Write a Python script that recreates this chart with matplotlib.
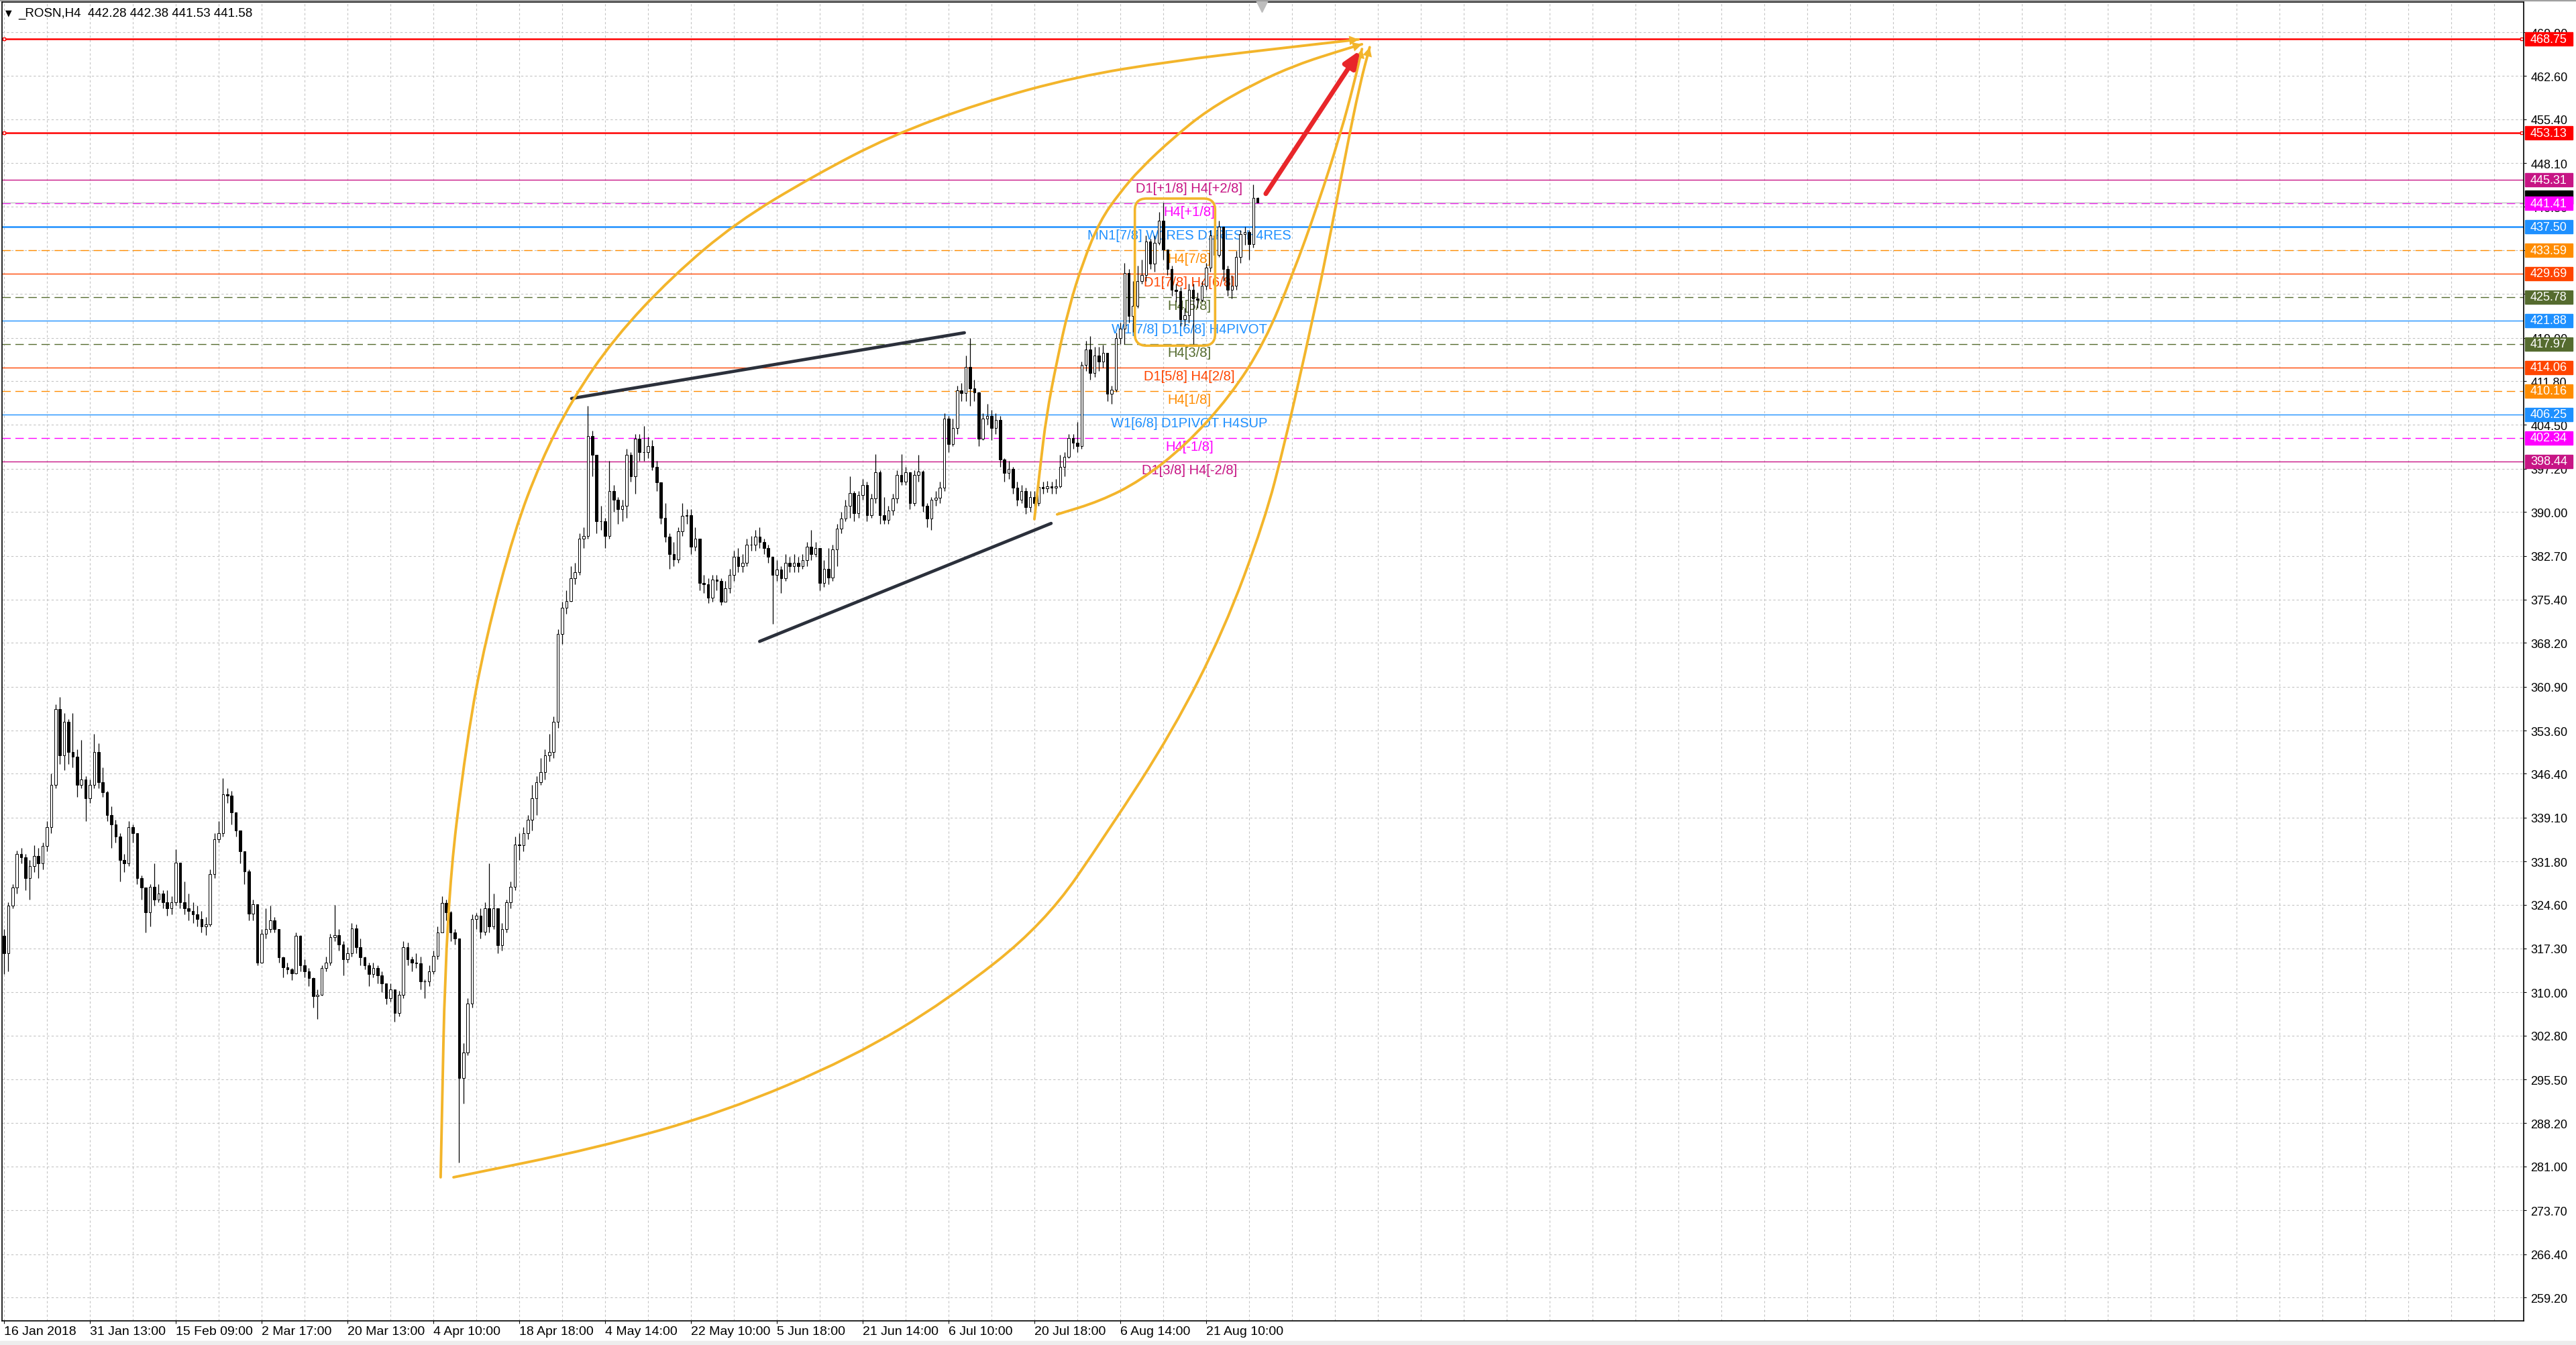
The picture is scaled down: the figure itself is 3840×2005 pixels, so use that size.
import numpy as np
import matplotlib
matplotlib.use("Agg")
import matplotlib.pyplot as plt
import matplotlib.transforms as mtransforms
from matplotlib.path import Path
from matplotlib.patches import PathPatch, FancyBboxPatch, Rectangle

plt.rcParams['font.family'] = ['Liberation Sans', 'DejaVu Sans']
NARROW = ['Liberation Sans Narrow', 'Liberation Sans', 'DejaVu Sans']

# ---- H4 candles of _ROSN (open of a bar = close of the bar before) ----
first_open = 319.4
closes = [316.5, 324.4, 327.5, 333.0, 332.5, 329.0, 331.0, 332.7, 331.5, 334.4,
          337.5, 344.5, 357.2, 349.5, 355.0, 350.0, 349.3, 344.5, 345.5, 342.3,
          344.5, 350.0, 345.0, 343.3, 339.5, 338.0, 336.0, 332.0, 331.5, 337.5,
          336.5, 329.0, 327.5, 323.3, 327.6, 325.5, 326.5, 325.0, 324.0, 325.0,
          331.6, 325.0, 324.0, 323.5, 323.0, 322.2, 321.0, 321.3, 329.7, 335.5,
          336.5, 343.0, 342.8, 340.0, 337.0, 333.5, 330.1, 323.1, 324.7, 315.0,
          319.7, 320.5, 322.0, 320.5, 315.8, 314.2, 313.8, 313.2, 319.4, 314.5,
          313.5, 312.4, 309.4, 309.6, 314.1, 314.9, 319.2, 319.5, 318.0, 315.5,
          316.5, 320.7, 317.5, 315.8, 314.5, 313.0, 314.0, 312.8, 311.5, 309.0,
          310.5, 306.6, 309.6, 317.5, 315.5, 315.0, 314.8, 311.8, 311.8, 313.5,
          316.1, 320.0, 324.9, 323.3, 320.0, 319.0, 295.7, 300.0, 308.1, 322.2,
          322.8, 320.1, 324.0, 321.0, 324.0, 317.8, 320.5, 325.0, 327.6, 334.6,
          334.5, 336.5, 338.8, 342.3, 345.0, 346.7, 349.5, 350.0, 355.1, 369.7,
          374.0, 375.2, 379.0, 380.0, 385.5, 386.0, 402.6, 399.5, 388.5, 388.5,
          386.0, 393.5, 392.0, 390.5, 391.0, 399.5, 396.0, 402.2, 400.0, 400.0,
          401.0, 397.5, 394.9, 389.0, 385.9, 383.0, 382.1, 386.8, 389.3, 389.5,
          384.2, 385.5, 378.2, 378.0, 375.7, 378.7, 378.5, 375.0, 377.3, 379.5,
          382.5, 381.0, 381.5, 384.6, 384.5, 385.9, 385.0, 384.0, 382.5, 379.5,
          380.4, 379.0, 381.5, 381.0, 381.5, 381.0, 382.0, 384.2, 383.0, 384.0,
          378.2, 380.5, 379.1, 383.8, 387.2, 388.9, 391.0, 393.2, 389.8, 392.8,
          394.5, 389.5, 392.3, 396.6, 389.5, 388.7, 390.2, 392.3, 396.2, 395.0,
          396.6, 391.5, 396.2, 396.7, 391.0, 388.9, 392.0, 392.4, 394.0, 405.6,
          401.3, 404.0, 410.3, 409.8, 414.1, 410.6, 409.9, 402.2, 405.5, 406.0,
          404.0, 405.3, 398.7, 396.5, 397.2, 394.0, 392.0, 393.5, 390.8, 392.5,
          391.5, 394.2, 393.9, 394.3, 394.0, 394.3, 397.5, 399.2, 402.3, 401.5,
          401.0, 414.5, 417.1, 413.2, 416.0, 415.0, 416.5, 409.7, 410.4, 419.0,
          420.5, 429.8, 422.7, 424.3, 428.4, 429.5, 435.1, 431.4, 434.8, 438.5,
          433.7, 430.5, 427.0, 426.8, 422.1, 422.8, 427.0, 425.5, 425.3, 427.7,
          430.7, 436.1, 432.8, 437.5, 430.5, 427.0, 427.7, 432.5, 436.3, 436.6,
          434.6, 442.28, 441.58]
highs = [320.5, 325.0, 328.0, 333.6, 334.0, 333.0, 332.0, 334.5, 334.0, 335.0,
         338.5, 346.5, 358.0, 359.2, 356.5, 355.5, 356.5, 350.5, 352.0, 346.0,
         345.5, 353.0, 351.5, 347.5, 343.5, 341.0, 338.8, 336.5, 333.0, 338.5,
         338.0, 336.5, 329.5, 327.5, 328.0, 331.5, 328.0, 327.0, 327.0, 326.0,
         333.8, 331.6, 328.5, 326.5, 325.0, 324.5, 323.5, 322.5, 330.5, 336.5,
         338.5, 345.7, 344.0, 343.5, 340.0, 337.0, 333.5, 330.5, 325.5, 324.5,
         320.5, 324.0, 324.5, 322.5, 320.5, 316.0, 315.0, 314.0, 320.0, 319.5,
         315.5, 314.0, 312.5, 310.5, 314.5, 316.0, 319.8, 324.6, 320.5, 318.5,
         317.5, 321.5, 321.3, 319.0, 316.0, 315.0, 315.0, 314.5, 313.5, 311.5,
         311.5, 310.5, 310.3, 318.5, 318.3, 316.0, 316.5, 316.0, 312.2, 314.5,
         317.0, 321.0, 326.0, 325.5, 323.5, 320.5, 319.0, 301.5, 309.0, 323.0,
         323.2, 324.0, 325.0, 331.5, 326.5, 324.0, 321.5, 325.5, 328.5, 336.0,
         336.5, 337.5, 339.5, 344.5, 346.0, 349.0, 350.5, 353.0, 356.0, 370.5,
         375.0, 377.0, 381.0, 381.5, 386.5, 387.5, 407.7, 403.5, 398.0, 391.0,
         389.0, 398.5, 394.5, 392.5, 392.0, 400.5, 400.0, 403.0, 403.0, 404.3,
         402.5, 402.0, 398.5, 394.0, 391.5, 386.5, 385.0, 387.5, 391.5, 390.5,
         390.5, 387.5, 385.0, 379.5, 379.0, 379.5, 379.5, 379.0, 378.5, 380.5,
         383.5, 384.0, 383.0, 385.5, 386.0, 387.0, 387.5, 385.5, 384.5, 382.5,
         382.0, 381.0, 383.0, 382.5, 383.0, 382.5, 383.0, 385.0, 387.0, 385.0,
         384.0, 382.0, 384.0, 384.5, 388.0, 390.0, 392.0, 396.0, 393.5, 393.5,
         395.5, 395.0, 393.0, 399.6, 397.0, 392.5, 391.0, 393.0, 397.0, 399.6,
         397.5, 396.5, 397.0, 399.5, 397.0, 391.5, 392.5, 393.5, 395.0, 406.5,
         406.0, 405.5, 411.0, 411.5, 416.0, 419.0, 412.0, 410.0, 406.5, 408.0,
         407.0, 406.5, 406.0, 399.0, 398.5, 397.5, 395.0, 394.5, 394.0, 393.5,
         393.5, 395.5, 395.0, 395.2, 395.0, 395.5, 399.5, 400.0, 403.0, 403.0,
         405.0, 415.0, 418.5, 419.3, 417.5, 417.5, 417.8, 416.5, 411.0, 419.8,
         421.5, 431.5, 430.5, 428.5, 431.0, 432.0, 436.0, 435.5, 436.0, 440.0,
         441.5, 433.5, 431.0, 428.0, 427.5, 424.0, 428.0, 428.0, 426.5, 428.5,
         431.5, 437.0, 439.0, 438.5, 437.5, 431.0, 429.5, 433.5, 437.0, 437.5,
         437.0, 444.5, 442.38]
lows = [313.0, 313.5, 324.0, 326.5, 331.5, 327.0, 325.5, 330.0, 329.0, 330.5,
        333.5, 336.5, 344.0, 348.0, 347.0, 348.0, 347.5, 342.5, 344.0, 338.5,
        341.5, 344.0, 344.0, 342.5, 338.5, 334.0, 335.0, 328.5, 330.0, 331.0,
        335.0, 328.0, 325.5, 320.0, 321.0, 324.5, 325.0, 324.0, 322.8, 323.0,
        324.5, 324.0, 323.0, 322.0, 321.5, 321.0, 320.0, 319.5, 321.0, 329.0,
        335.0, 336.0, 341.5, 338.0, 336.0, 331.5, 328.0, 322.0, 322.0, 314.5,
        314.8, 319.0, 320.0, 320.0, 315.0, 312.5, 313.0, 312.0, 313.0, 313.5,
        312.5, 311.0, 307.5, 305.6, 309.5, 313.5, 314.5, 318.5, 317.0, 312.8,
        315.0, 316.0, 316.5, 314.5, 313.8, 311.0, 312.5, 311.5, 310.0, 308.0,
        308.5, 305.1, 306.0, 309.0, 314.5, 313.5, 314.0, 310.5, 309.0, 311.0,
        313.0, 315.5, 320.0, 322.0, 318.5, 318.0, 281.6, 291.5, 299.5, 307.5,
        320.5, 319.0, 319.5, 320.0, 320.5, 316.5, 317.0, 320.0, 324.0, 327.0,
        332.0, 333.5, 335.5, 337.0, 339.5, 344.5, 345.5, 348.5, 349.0, 354.0,
        368.0, 373.0, 375.0, 378.0, 379.5, 384.0, 385.5, 396.0, 386.5, 387.0,
        384.0, 385.5, 390.0, 388.0, 388.5, 389.0, 395.0, 393.0, 398.5, 398.5,
        399.0, 397.0, 393.5, 388.0, 385.0, 380.5, 381.0, 381.5, 386.0, 388.0,
        383.0, 383.5, 377.0, 376.5, 374.8, 375.0, 377.0, 374.5, 375.0, 376.5,
        378.5, 380.0, 380.0, 381.0, 383.5, 383.5, 384.0, 383.0, 381.5, 371.4,
        378.5, 376.5, 378.5, 380.0, 380.0, 380.0, 380.5, 381.0, 382.0, 382.5,
        377.0, 377.5, 378.0, 378.5, 381.0, 386.5, 388.5, 389.0, 388.5, 389.0,
        392.0, 388.5, 389.0, 391.5, 388.0, 388.0, 388.0, 389.5, 391.5, 394.5,
        394.5, 390.5, 391.0, 395.0, 390.0, 387.5, 387.0, 391.0, 391.5, 393.5,
        400.0, 401.0, 403.0, 408.5, 408.5, 407.7, 408.5, 401.0, 402.0, 404.5,
        402.0, 403.0, 397.5, 395.0, 395.5, 393.0, 391.0, 391.5, 389.7, 390.0,
        390.5, 391.0, 393.0, 393.3, 393.0, 393.0, 394.0, 396.0, 399.0, 400.5,
        400.0, 400.5, 413.5, 412.0, 412.5, 413.5, 414.0, 408.5, 408.0, 410.0,
        418.0, 418.0, 421.5, 420.0, 424.0, 428.0, 428.5, 430.5, 430.0, 434.5,
        432.0, 429.5, 426.0, 425.0, 421.0, 421.0, 421.5, 417.8, 424.0, 425.0,
        427.0, 430.0, 432.0, 432.5, 428.5, 426.0, 425.5, 427.0, 431.5, 434.5,
        432.0, 434.0, 441.53]

# time axis: one label every 20 bars
time_labels = ["16 Jan 2018", "31 Jan 13:00", "15 Feb 09:00", "2 Mar 17:00", "20 Mar 13:00",
               "4 Apr 10:00", "18 Apr 18:00", "4 May 14:00", "22 May 10:00", "5 Jun 18:00",
               "21 Jun 14:00", "6 Jul 10:00", "20 Jul 18:00", "6 Aug 14:00", "21 Aug 10:00"]
label_step = 20

price_ticks = [469.90, 462.60, 455.40, 448.10, 440.80, 433.60, 426.30, 419.00, 411.80, 404.50,
               397.20, 390.00, 382.70, 375.40, 368.20, 360.90, 353.60, 346.40, 339.10, 331.80,
               324.60, 317.30, 310.00, 302.80, 295.50, 288.20, 281.00, 273.70, 266.40, 259.20]

# horizontal levels (price, colour, dashed?, caption)
levels = [468.75, 453.13, 445.31, 441.41, 437.50, 433.59, 429.69, 425.78, 421.88, 417.97,
          414.06, 410.16, 406.25, 402.34, 398.44]
level_colors = ['#FF0000', '#FF0000', '#C71585', '#FF00FF', '#1E90FF', '#FF8C00', '#FF4500',
                '#556B2F', '#1E90FF', '#556B2F', '#FF4500', '#FF8C00', '#1E90FF', '#FF00FF', '#C71585']
level_dashed = [False, False, False, True, False, True, False, True, False, True,
                False, True, False, True, False]
level_widths = [1.8, 1.8, 1.0, 1.0, 1.8, 1.0, 1.0, 1.0, 1.0, 1.0, 1.0, 1.0, 1.0, 1.0, 1.0]
level_texts = ['', '', 'D1[+1/8] H4[+2/8]', 'H4[+1/8]', 'MN1[7/8] W1RES D1RES H4RES', 'H4[7/8]',
               'D1[7/8] H4[6/8]', 'H4[5/8]', 'W1[7/8] D1[6/8] H4PIVOT', 'H4[3/8]',
               'D1[5/8] H4[2/8]', 'H4[1/8]', 'W1[6/8] D1PIVOT H4SUP', 'H4[-1/8]', 'D1[3/8] H4[-2/8]']
caption_bar = 276.1

bid = 441.58
title = "_ROSN,H4  442.28 442.38 441.53 441.58"

# hand drawn objects, in (bar, price)
trend_up_x, trend_up_y = [132.2, 223.7], [408.9, 419.85]
trend_lo_x, trend_lo_y = [176.0, 243.9], [368.45, 388.1]
arc1_x = [101.7, 103.0, 107.8, 112.2, 118.9, 125.0, 132.3, 142.2, 155.6, 170.5, 188.4, 206.4,
          227.3, 249.7, 272.2, 294.5, 315.5]
arc1_y = [279.2, 324.0, 352.3, 368.9, 386.9, 398.4, 408.7, 419.0, 429.2, 438.2, 445.9, 452.6,
          458.1, 462.5, 465.1, 467.0, 468.7]
arc2_x = [104.7, 137.7, 167.5, 197.5, 219.8, 242.3, 257.2, 272.2, 284.1, 293.6, 298.3, 303.0,
          308.1, 312.5, 315.8, 318.1]
arc2_y = [279.2, 284.0, 290.0, 299.1, 308.7, 321.4, 336.8, 353.5, 370.2, 388.5, 401.4, 416.2,
          433.0, 449.7, 461.2, 467.4]
arc3_x = [240.0, 241.3, 242.8, 245.2, 248.0, 251.4, 255.3, 259.7, 264.7, 272.5, 280.3, 290.8,
          301.1, 311.6, 316.3]
arc3_y = [388.8, 397.2, 406.1, 415.0, 424.0, 431.8, 438.5, 443.0, 447.2, 452.4, 456.9, 461.2,
          464.5, 466.9, 467.9]
arc4_x = [245.3, 255.3, 264.7, 275.2, 285.5, 293.6, 300.2, 306.1, 311.3, 314.4, 316.3]
arc4_y = [389.6, 391.8, 395.2, 401.1, 409.2, 418.2, 429.6, 441.3, 453.0, 461.2, 467.1]
box_x, box_y = [263.4, 282.1], [417.7, 442.2]
red_arrow_x, red_arrow_y = [293.9, 315.9], [443.0, 466.9]

ORANGE = '#F3B52B'
W, H = 3840, 2006
fig = plt.figure(figsize=(W / 100, H / 100), dpi=100, facecolor='white')
ax = fig.add_axes([3 / W, 36 / H, 3759 / W, 1966 / H])
ax.set_xlim(-0.47, 586.9)
ax.set_ylim(255.29, 474.93)

# grid
for gx in range(0, 590, 10):
    ax.axvline(gx, color='#C4C4C4', lw=0.8, dashes=(3, 3), zorder=0.5)
for gy in price_ticks:
    ax.axhline(gy, color='#C4C4C4', lw=0.8, dashes=(3, 3), zorder=0.5)

# levels + captions
for p, col, dsh, lw, txt in zip(levels, level_colors, level_dashed, level_widths, level_texts):
    if dsh:
        ax.axhline(p, color=col, lw=lw, dashes=(9, 5), zorder=1)
    else:
        ax.axhline(p, color=col, lw=lw, zorder=1)
    if txt:
        ax.text(caption_bar, p - 0.35, txt, color=col, fontsize=14.5, ha='center', va='top', zorder=2)
ax.axhline(bid, color='#C0C0C0', lw=1.0, zorder=1)
for p in levels[:2]:
    ax.plot([0.0008, 0.9992], [p, p], ls='none', marker='s', ms=3.5, mfc='white', mec='#FF0000',
            mew=1.0, transform=mtransforms.blended_transform_factory(ax.transAxes, ax.transData),
            zorder=2)

# candles
n = len(closes)
idx = np.arange(n)
o = np.array([first_open] + closes[:-1])
c = np.array(closes)
h = np.maximum(np.array(highs), np.maximum(o, c))
l = np.minimum(np.array(lows), np.minimum(o, c))
up = c >= o
ax.vlines(idx, l, h, color='black', lw=0.9, zorder=3)
lo = np.minimum(o, c)
ht = np.abs(c - o)
ax.bar(idx[up], ht[up], bottom=lo[up], width=0.55, color='white', edgecolor='black', linewidth=0.7, zorder=4)
ax.bar(idx[~up], ht[~up], bottom=lo[~up], width=0.55, color='black', edgecolor='black', linewidth=0.7, zorder=4)

# trend lines
ax.plot(trend_up_x, trend_up_y, color='#2B303B', lw=3.4, solid_capstyle='round', zorder=5)
ax.plot(trend_lo_x, trend_lo_y, color='#2B303B', lw=3.4, solid_capstyle='round', zorder=5)


def smooth_path(xs, ys):
    pts = list(zip(xs, ys))
    verts = [pts[0], ((pts[0][0] + pts[1][0]) / 2, (pts[0][1] + pts[1][1]) / 2)]
    codes = [Path.MOVETO, Path.LINETO]
    for k in range(1, len(pts) - 1):
        mid = ((pts[k][0] + pts[k + 1][0]) / 2, (pts[k][1] + pts[k + 1][1]) / 2)
        verts += [pts[k], mid]
        codes += [Path.CURVE3, Path.CURVE3]
    verts.append(pts[-1])
    codes.append(Path.LINETO)
    return Path(verts, codes)


for xs, ys in [(arc1_x, arc1_y), (arc2_x, arc2_y), (arc3_x, arc3_y), (arc4_x, arc4_y)]:
    ax.add_patch(PathPatch(smooth_path(xs, ys), fill=False, edgecolor=ORANGE, lw=2.8,
                           capstyle='round', zorder=7))
    ax.annotate('', xy=(xs[-1], ys[-1]), xytext=(xs[-2], ys[-2]),
                arrowprops=dict(arrowstyle='-|>,head_length=0.55,head_width=0.28', color=ORANGE,
                                lw=0, shrinkA=0, shrinkB=0, mutation_scale=18), zorder=8)

ax.add_patch(FancyBboxPatch((box_x[0], box_y[0]), box_x[1] - box_x[0], box_y[1] - box_y[0],
                            boxstyle='round,pad=0,rounding_size=2.7', mutation_aspect=0.715,
                            fill=False, edgecolor=ORANGE, lw=2.6, zorder=7))

ax.annotate('', xy=(red_arrow_x[1], red_arrow_y[1]), xytext=(red_arrow_x[0], red_arrow_y[0]),
            arrowprops=dict(arrowstyle='-|>,head_length=0.75,head_width=0.3', color='#E8262A',
                            lw=5.0, shrinkA=0, shrinkB=0, mutation_scale=20), zorder=9)

# axes / ticks
for s in ax.spines.values():
    s.set_color('black')
    s.set_linewidth(1.2)
ax.yaxis.tick_right()
ax.set_yticks(price_ticks)
ax.set_yticklabels([f"{v:.2f}" for v in price_ticks])
ax.tick_params(axis='y', length=3, width=0.8, pad=4.5, labelsize=13, colors='black')
ax.set_xticks([k * label_step for k in range(len(time_labels))])
ax.set_xticklabels(time_labels)
ax.tick_params(axis='x', length=3, width=0.8, pad=2, labelsize=14)
for lbl in ax.get_xticklabels():
    lbl.set_ha('left')
    lbl.set_family(NARROW)

# price tags on the right scale
tag_tr = mtransforms.blended_transform_factory(ax.transAxes, ax.transData)
half = 1.12
ax.add_patch(Rectangle((1.00053, bid + 0.8 - half), 0.01889, 2 * half, transform=tag_tr,
                       color='black', clip_on=False, zorder=10))
for p, col in zip(levels, level_colors):
    ax.add_patch(Rectangle((1.00053, p - half), 0.01889, 2 * half, transform=tag_tr,
                           color=col, clip_on=False, zorder=10))
    ax.text(1.00266, p, f"{p:.2f}", transform=tag_tr, color='white', fontsize=13,
            va='center', ha='left', clip_on=False, zorder=11)

# chart-shift marker
ax.plot([n], [0.997], marker='v', ms=13, color='#BDBDBD', clip_on=False, zorder=12,
        transform=mtransforms.blended_transform_factory(ax.transData, ax.transAxes))

# header text
fig.text(13 / W, 1 - 20 / H, '\u25bc', fontsize=9, ha='center', va='center', family=['DejaVu Sans'])
fig.text(27 / W, 1 - 20 / H, title, fontsize=13.5, ha='left', va='center', family=NARROW)

# window frame strips
fig.patches.append(Rectangle((0, 0), 1, 6 / H, transform=fig.transFigure, color='#EDEDED', zorder=0))
fig.patches.append(Rectangle((0, 1 - 2 / H), 1, 2 / H, transform=fig.transFigure, color='#A0A0A0', zorder=0))

fig.savefig('out.png', dpi=100, facecolor='white')
